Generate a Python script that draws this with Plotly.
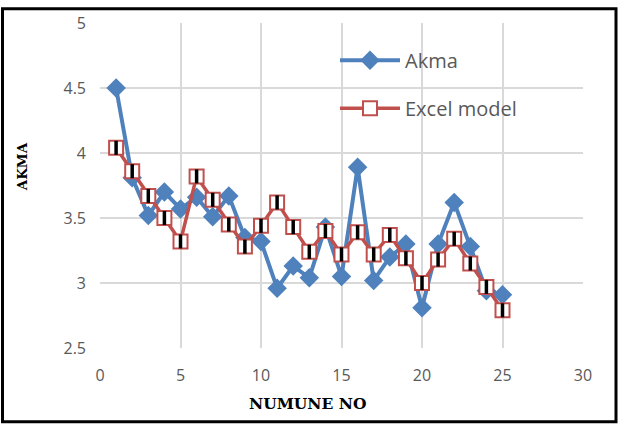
import plotly.graph_objects as go

numune = list(range(1, 26))
akma = [4.50, 3.81, 3.52, 3.70, 3.57, 3.66, 3.51, 3.67, 3.35, 3.32,
        2.96, 3.13, 3.04, 3.43, 3.05, 3.89, 3.02, 3.20, 3.30, 2.81,
        3.30, 3.62, 3.28, 2.94, 2.91]
excel_model = [4.04, 3.86, 3.67, 3.50, 3.32, 3.82, 3.64, 3.45, 3.28, 3.44,
               3.62, 3.43, 3.24, 3.40, 3.22, 3.39, 3.22, 3.37, 3.19, 3.00,
               3.18, 3.34, 3.15, 2.97, 2.79]
x_ticks = [0, 5, 10, 15, 20, 25, 30]
y_ticks = [2.5, 3, 3.5, 4, 4.5, 5]

BLUE = "#4F81BD"
RED = "#C0504D"
GRAY = "#595959"

fig = go.Figure()
fig.add_trace(go.Scatter(
    x=numune, y=akma, name="Akma", mode="lines+markers",
    line=dict(color=BLUE, width=4),
    marker=dict(symbol="diamond", size=15, color=BLUE),
    legendgroup="a",
))
fig.add_trace(go.Scatter(
    x=numune, y=excel_model, name="Excel model", mode="lines+markers",
    line=dict(color=RED, width=3.5),
    marker=dict(symbol="square", size=14, color="white", line=dict(color=RED, width=2)),
    legendgroup="b",
))
fig.add_trace(go.Scatter(
    x=numune, y=excel_model, mode="markers", showlegend=False, hoverinfo="skip",
    marker=dict(symbol="line-ns", size=10, line=dict(color="black", width=3.5)),
))

W, H = 619, 429
L, R, T, B = 100, 36, 17, 81
pw, ph = W - L - R, H - T - B

def px(xp):
    return (xp - L) / pw

def py(yp):
    return 1 - (yp - T) / ph

fig.update_layout(
    width=W, height=H,
    margin=dict(l=L, r=R, t=T, b=B),
    paper_bgcolor="white", plot_bgcolor="white",
    font=dict(family="Open Sans, Liberation Sans, sans-serif", color=GRAY, size=16),
    legend=dict(
        x=px(335), y=py(35), xanchor="left", yanchor="top",
        bgcolor="rgba(0,0,0,0)",
        font=dict(size=20, color=GRAY, family="Open Sans, Liberation Sans, sans-serif"),
        traceorder="grouped", tracegroupgap=19, itemwidth=60,
    ),
    xaxis=dict(
        range=[0, 30], tickvals=x_ticks, showgrid=True, gridcolor="#D9D9D9", gridwidth=1.5,
        zeroline=False, showline=False, ticks="", ticklabelstandoff=16,
        tickfont=dict(size=16, color=GRAY),
    ),
    yaxis=dict(
        range=[2.5, 5], tickvals=y_ticks, showgrid=True, gridcolor="#D9D9D9", gridwidth=1.5,
        zeroline=False, showline=False, ticks="", ticklabelstandoff=13,
        tickfont=dict(size=16, color=GRAY),
    ),
    annotations=[
        dict(text="<b>NUMUNE NO</b>", xref="paper", yref="paper", x=px(307), y=py(405),
             xanchor="center", yanchor="middle",
             showarrow=False, font=dict(family="DejaVu Serif, Liberation Serif, serif", size=15.5, color="black")),
        dict(text="<b>AKMA</b>", xref="paper", yref="paper", x=px(22), y=py(164),
             xanchor="center", yanchor="middle",
             showarrow=False, textangle=-90,
             font=dict(family="DejaVu Serif, Liberation Serif, serif", size=13.5, color="black")),
    ],
    shapes=[
        dict(type="rect", xref="paper", yref="paper", x0=px(2.5), x1=px(616), y0=py(2.5), y1=py(423),
             line=dict(color="black", width=3), fillcolor="rgba(0,0,0,0)", layer="above"),
    ],
)

fig.write_html("out.html")
